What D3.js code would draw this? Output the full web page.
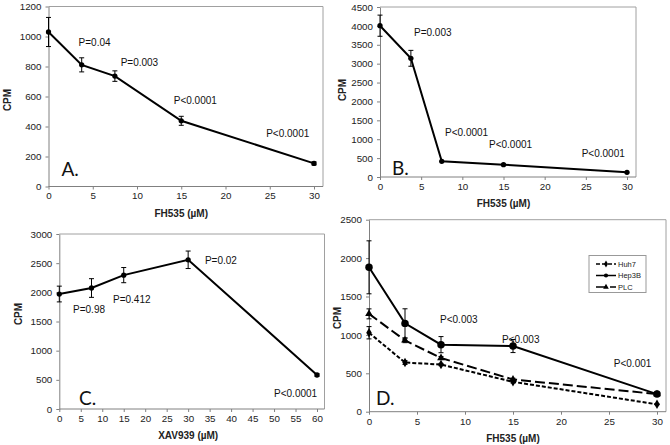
<!DOCTYPE html>
<html><head><meta charset="utf-8">
<script src="https://cdn.jsdelivr.net/npm/d3@7"></script>
<style>body{margin:0;background:#fff}svg{display:block}text{font-family:Arial,"Liberation Sans",sans-serif}</style>
</head><body>
<script>
// ---- data ----
const concA = [0, 3.75, 7.5, 15, 30];
const cpmA = [1030, 811, 736, 438, 154];
const errA = [97, 47, 35, 30, 10];
const pTextA = ["P=0.04", "P=0.003", "P<0.0001", "P<0.0001"];
const pAtA = [[3.4, 958], [8.15, 829], [14.15, 576], [24.6, 356]];

const concB = [0, 3.75, 7.5, 15, 30];
const cpmB = [4005, 3142, 415, 326, 124];
const errB = [280, 210, 0, 0, 0];
const pTextB = ["P=0.003", "P<0.0001", "P<0.0001", "P<0.0001"];
const pAtB = [[4.13, 3812], [7.9, 1191], [13.24, 873], [24.5, 609]];

const concC = [0, 7.5, 15, 30, 60];
const cpmC = [1971, 2074, 2295, 2558, 583];
const errC = [135, 160, 130, 150, 20];
const pTextC = ["P=0.98", "P=0.412", "P=0.02", "P<0.0001"];
const pAtC = [[3.2, 1714], [12.5, 1885], [33.9, 2554], [50, 274]];

const concD = [0, 3.75, 7.5, 15, 30];
const seriesNamesD = ["Huh7", "Hep3B", "PLC"];
const cpmHuh7 = [1028, 640, 614, 389, 96];
const errHuh7 = [80, 25, 15, 15, 5];
const cpmHep3B = [1880, 1150, 873, 855, 229];
const errHep3B = [345, 190, 105, 85, 15];
const cpmPLC = [1274, 929, 699, 420, 229];
const errPLC = [65, 30, 20, 15, 10];
const pTextD = ["P<0.003", "P<0.003", "P<0.001"];
const pAtD = [[7.4, 1200], [13.85, 941], [25.5, 630]];

const ticksA_x = [0, 5, 10, 15, 20, 25, 30], ticksA_y = [0, 200, 400, 600, 800, 1000, 1200];
const ticksB_x = [0, 5, 10, 15, 20, 25, 30], ticksB_y = [0, 500, 1000, 1500, 2000, 2500, 3000, 3500, 4000, 4500];
const ticksC_x = [0, 5, 10, 15, 20, 25, 30, 35, 40, 45, 50, 55, 60], ticksC_y = [0, 500, 1000, 1500, 2000, 2500, 3000];
const ticksD_x = [0, 5, 10, 15, 20, 25, 30], ticksD_y = [0, 500, 1000, 1500, 2000, 2500];
const letters = ["A.", "B.", "C.", "D."];
const letterAt = [[1.47, 117], [1.46, 238], [4.6, 189], [0.73, 177]];
const xTitles = ["FH535 (µM)", "FH535 (µM)", "XAV939 (µM)", "FH535 (µM)"];
const yTitle = "CPM";

// ---- drawing ----
const FONT = "Arial, 'Liberation Sans', sans-serif";
const svg = d3.select("body").append("svg").attr("width", 670).attr("height", 445);

function panel(o) {
  const g = svg.append("g");
  const x = d3.scaleLinear().domain([o.ticksX[0], o.ticksX[o.ticksX.length - 1]]).range([o.left, o.xEnd]);
  const y = d3.scaleLinear().domain([o.ticksY[0], o.ticksY[o.ticksY.length - 1]]).range([o.bottom, o.top]);
  g.append("path").attr("d", `M${o.left},${o.top}H${o.right}V${o.bottom}`)
    .attr("fill", "none").attr("stroke", "#a0a0a0").attr("stroke-width", 1);
  const ax = g.append("g").attr("transform", `translate(0,${o.bottom})`)
    .call(d3.axisBottom(x).tickValues(o.ticksX).tickFormat(d3.format("d")).tickSizeInner(3).tickSizeOuter(0).tickPadding(3));
  ax.select(".domain").attr("d", `M${o.left},0H${o.right}`);
  const ay = g.append("g").attr("transform", `translate(${o.left},0)`)
    .call(d3.axisLeft(y).tickValues(o.ticksY).tickFormat(d3.format("d")).tickSizeInner(3).tickSizeOuter(0).tickPadding(4));
  [ax, ay].forEach(a => {
    a.attr("font-family", FONT);
    a.selectAll(".domain").attr("stroke", "#808080");
    a.selectAll(".tick line").attr("stroke", "#808080");
    a.selectAll("text").attr("font-size", 9.8).attr("fill", "#222");
  });
  g.append("text").attr("x", (o.left + o.xEnd) / 2).attr("y", o.bottom + 30)
    .attr("text-anchor", "middle").attr("font-size", 10).attr("font-weight", "bold").attr("fill", "#222").text(o.xTitle);
  g.append("text").attr("transform", `translate(${o.yTitleX},${o.yTitleY}) rotate(-90)`)
    .attr("text-anchor", "middle").attr("dy", "0.35em").attr("font-size", 10).attr("font-weight", "bold").attr("fill", "#222").text(yTitle);
  o.series.forEach(s => {
    const pts = s.xs.map((v, i) => ({ x: v, y: s.ys[i], e: s.es[i] }));
    pts.filter(p => p.e > 0).forEach(p => {
      const cx = x(p.x), y1 = y(p.y + p.e), y2 = y(p.y - p.e);
      g.append("path").attr("d", `M${cx},${y1}V${y2}M${cx - 2.5},${y1}H${cx + 2.5}M${cx - 2.5},${y2}H${cx + 2.5}`)
        .attr("stroke", "#000").attr("stroke-width", 1).attr("fill", "none");
    });
    g.append("path").datum(pts)
      .attr("d", d3.line().x(p => x(p.x)).y(p => y(p.y)))
      .attr("fill", "none").attr("stroke", "#000").attr("stroke-width", 2)
      .attr("stroke-dasharray", s.dash || null);
    g.selectAll(null).data(pts).enter().append("path")
      .attr("transform", p => `translate(${x(p.x)},${y(p.y)})`)
      .attr("d", d3.symbol().type(s.symbol || d3.symbolCircle).size(s.size || 22))
      .attr("fill", "#000");
  });
  o.pText.forEach((t, i) => {
    g.append("text").attr("x", x(o.pAt[i][0])).attr("y", y(o.pAt[i][1])).attr("dy", "0.35em")
      .attr("font-size", 10).attr("fill", "#111").text(t);
  });
  g.append("text").attr("x", x(o.letterAt[0])).attr("y", y(o.letterAt[1])).attr("dy", "0.35em")
    .attr("font-size", 19).style("font-family", "Lato, 'Open Sans', sans-serif").attr("fill", "#111").text(o.letter);
  return { g, x, y };
}

panel({ left: 48.5, top: 6.5, right: 323, bottom: 186.5, xEnd: 314,
  ticksX: ticksA_x, ticksY: ticksA_y, xTitle: xTitles[0], yTitleX: 7, yTitleY: 100,
  series: [{ xs: concA, ys: cpmA, es: errA }], pText: pTextA, pAt: pAtA, letter: letters[0], letterAt: letterAt[0] });

panel({ left: 380, top: 7, right: 636, bottom: 177, xEnd: 627,
  ticksX: ticksB_x, ticksY: ticksB_y, xTitle: xTitles[1], yTitleX: 342, yTitleY: 90,
  series: [{ xs: concB, ys: cpmB, es: errB }], pText: pTextB, pAt: pAtB, letter: letters[1], letterAt: letterAt[1] });

panel({ left: 59.3, top: 234, right: 324.5, bottom: 409, xEnd: 317,
  ticksX: ticksC_x, ticksY: ticksC_y, xTitle: xTitles[2], yTitleX: 18, yTitleY: 314,
  series: [{ xs: concC, ys: cpmC, es: errC }], pText: pTextC, pAt: pAtC, letter: letters[2], letterAt: letterAt[2] });

const styleD = [
  { dash: "4,2", symbol: d3.symbolDiamond, size: 26 },
  { dash: null, symbol: d3.symbolCircle, size: 44 },
  { dash: "10,4", symbol: d3.symbolTriangle, size: 26 }
];
const valsD = [cpmHuh7, cpmHep3B, cpmPLC], errsD = [errHuh7, errHep3B, errPLC];
panel({ left: 369, top: 219.7, right: 666, bottom: 411.7, xEnd: 657,
  ticksX: ticksD_x, ticksY: ticksD_y, xTitle: xTitles[3], yTitleX: 337, yTitleY: 318,
  series: seriesNamesD.map((n, i) => ({ xs: concD, ys: valsD[i], es: errsD[i], ...styleD[i] })),
  pText: pTextD, pAt: pAtD, letter: letters[3], letterAt: letterAt[3] });

const lg = svg.append("g").attr("transform", "translate(589,255.5)");
lg.append("rect").attr("width", 57).attr("height", 37).attr("fill", "#fff").attr("stroke", "#999").attr("stroke-width", 1);
seriesNamesD.forEach((n, i) => {
  const yy = 8.5 + i * 11.5;
  lg.append("line").attr("x1", 7).attr("x2", 27).attr("y1", yy).attr("y2", yy)
    .attr("stroke", "#000").attr("stroke-width", 1.5).attr("stroke-dasharray", styleD[i].dash);
  lg.append("path").attr("transform", `translate(17,${yy})`)
    .attr("d", d3.symbol().type(styleD[i].symbol).size(14)).attr("fill", "#000");
  lg.append("text").attr("x", 29).attr("y", yy).attr("dy", "0.35em").attr("font-size", 7.5).attr("fill", "#222").text(n);
});
</script>
</body></html>
